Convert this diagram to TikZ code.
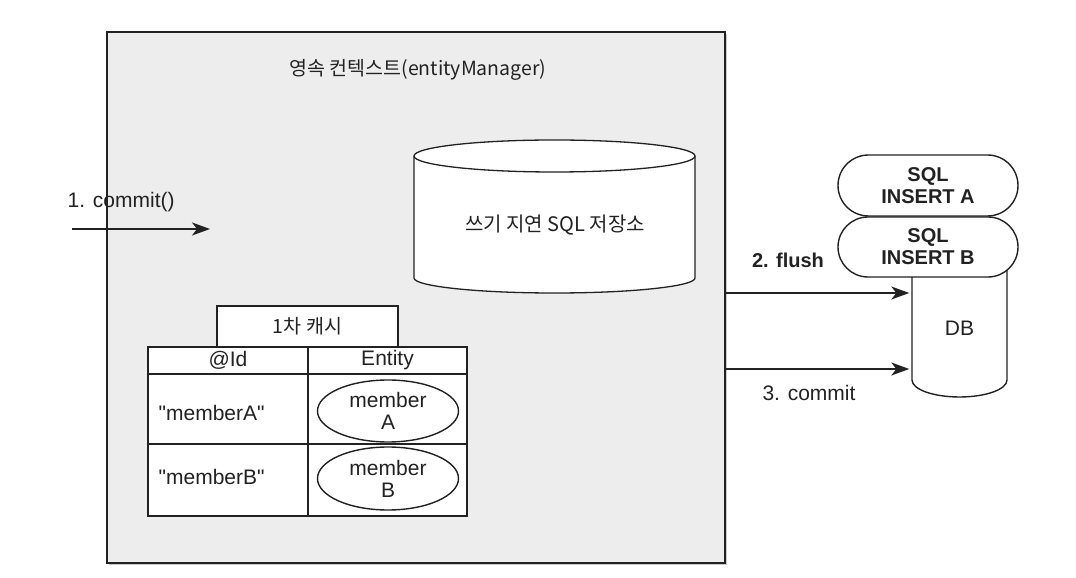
\documentclass[tikz,border=0pt]{standalone}
\usepackage{fontspec}
\setmainfont{Liberation Sans}
\newfontfamily\kr{Noto Sans CJK KR}
\usetikzlibrary{shapes.misc,shapes.geometric,shadows,arrows.meta}
\definecolor{bg}{HTML}{EDEDED}
\definecolor{ink}{HTML}{222222}
\begin{document}
\begin{tikzpicture}[x=1pt,y=1pt,
  line width=1.4pt, draw=ink,
  lat/.style={font=\fontsize{21}{22}\selectfont, inner sep=0pt, text=ink, align=center},
  kor/.style={font=\kr\fontsize{19.5}{23}\selectfont, inner sep=0pt, text=ink},
  bld/.style={font=\fontsize{20}{24}\bfseries\selectfont, inner sep=0pt, text=ink, align=center},
  arr/.style={-{Stealth[length=18pt,width=13pt,inset=5pt]}, line width=1.4pt, draw=ink},
  cell/.style={draw=ink, fill=white, inner sep=0pt, line width=1.4pt},
  pill/.style={draw=ink, fill=white, rounded rectangle, minimum width=180pt, inner sep=0pt, line width=1.4pt},
  ent/.style={draw=ink, fill=white, ellipse, minimum width=141pt, inner sep=0pt, line width=1.4pt}
]
\useasboundingbox (0,0) rectangle (1076,578);

% persistence context box
\node[draw=ink, fill=bg, line width=2pt, minimum width=618pt, minimum height=531pt, inner sep=0pt,
      drop shadow={shadow xshift=2pt, shadow yshift=-2.5pt, fill=black!35, opacity=0.6}]
  (ctx) at (416,280.5) {};
\node[kor] (title) at (418,508) {영속 컨텍스트(entityManager)};

% write-behind SQL store (cylinder)
\filldraw[fill=white, draw=ink, line width=1.3pt]
  (414,422) -- (414,300) arc[start angle=180, end angle=360, x radius=140.5, y radius=15]
  -- (695,422) arc[start angle=0, end angle=180, x radius=140.5, y radius=16] -- cycle;
\draw[ink, line width=1.3pt] (414,422) arc[start angle=180, end angle=360, x radius=140.5, y radius=16];
\node[kor, font=\kr\fontsize{20}{23}\selectfont] (store) at (555,353) {쓰기 지연 SQL 저장소};

% first-level cache
\node[cell, kor, minimum width=181pt, minimum height=41pt] (cache) at (307.5,251.5) {1차 캐시};
\node[cell, lat, minimum width=160pt, minimum height=27pt] (hid) at (228,217.5) {@Id};
\node[cell, lat, minimum width=159pt, minimum height=27pt] (hent) at (387.5,217.5) {Entity};
\node[cell, minimum width=160pt, minimum height=70pt] (ca) at (228,169) {};
\node[cell, minimum width=159pt, minimum height=70pt] (cea) at (387.5,169) {};
\node[cell, minimum width=160pt, minimum height=72pt] (cb) at (228,98) {};
\node[cell, minimum width=159pt, minimum height=72pt] (ceb) at (387.5,98) {};
\node[lat, anchor=west] (ka) at (158,165) {\textquotedbl memberA\textquotedbl};
\node[lat, anchor=west] (kb) at (158,101) {\textquotedbl memberB\textquotedbl};
\node[ent, lat, minimum height=62pt] (ea) at (388,167) {member\\A};
\node[ent, lat, minimum height=63pt] (eb) at (388,99.5) {member\\B};

% DB
\filldraw[fill=white, draw=ink, line width=1.4pt]
  (912,318) -- (912,198) arc[start angle=180, end angle=360, x radius=47.5, y radius=17] -- (1007,318);
\node[lat, minimum width=95pt, minimum height=100pt] (db) at (959.5,250) {DB};

% SQL pills
\node[pill, bld, minimum height=60pt] (sqlb) at (928,331) {SQL\\[-2pt]INSERT B};
\node[pill, bld, minimum height=61pt] (sqla) at (928,392.5) {SQL\\[-2pt]INSERT A};

% arrows
\coordinate (cs) at (72,349);
\coordinate (ce) at (210,349);
\draw[arr] (cs) -- (ce);
\node[lat, anchor=west] (l1) at (67,376) {1. commit()};

\draw[arr, shorten >=2pt] (ctx.east |- 0,285) -- (db.west |- 0,285);
\node[bld] (l2) at (788,318) {2. flush};
\draw[arr, shorten >=2pt] (ctx.east |- 0,209) -- (db.west |- 0,209);
\node[lat] (l3) at (809,185) {3. commit};
\end{tikzpicture}
\end{document}
